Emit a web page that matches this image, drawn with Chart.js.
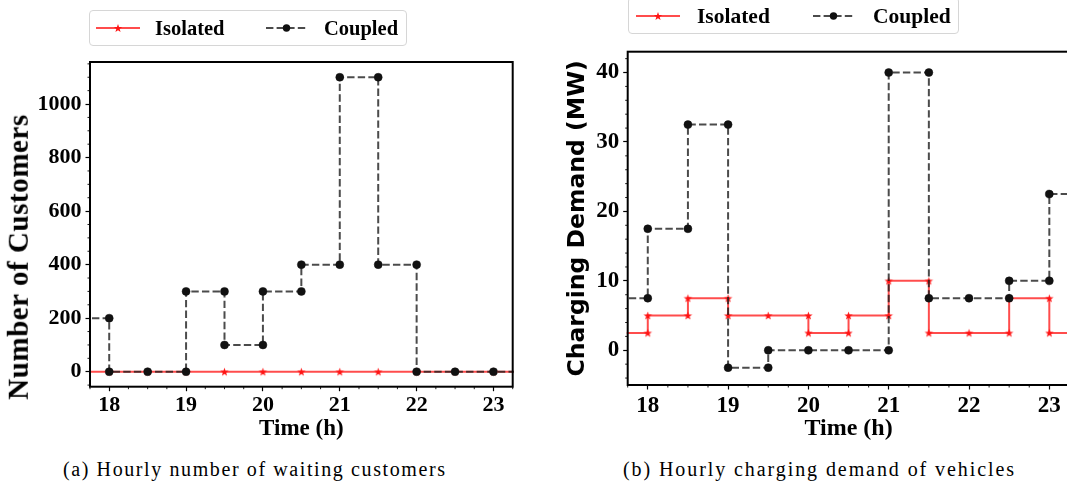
<!DOCTYPE html>
<html><head><meta charset="utf-8">
<script src="https://cdn.jsdelivr.net/npm/chart.js@4/dist/chart.umd.min.js"></script>
<style>
html,body{margin:0;padding:0;background:#fff;}
body{width:1067px;height:494px;overflow:hidden;position:relative;}
.wrap{position:absolute;top:0;width:540px;height:450px;}
.legend{position:absolute;border:1px solid #d6d6d6;border-radius:4px;background:#fff;font-family:"Liberation Serif",serif;font-weight:bold;color:#000;}
.legend span{position:absolute;top:0;white-space:nowrap;}
.legend svg{position:absolute;}
.txt{position:absolute;white-space:nowrap;color:#000;}
</style></head><body>
<div class="wrap" style="left:0"><canvas id="c1" width="540" height="450"></canvas></div>
<div class="wrap" style="left:540px"><canvas id="c2" width="540" height="450"></canvas></div>

<div id="ytA" class="txt" style="font-family:'Liberation Serif',serif;font-weight:bold;font-size:29px;line-height:32px;">Number of Customers</div>

<div class="legend" style="left:89px;top:10px;width:316px;height:34px;font-size:20.5px;">
  <svg id="lgA1" style="left:6px;top:10px" width="44" height="14"></svg>
  <span style="left:65px;line-height:34px">Isolated</span>
  <svg id="lgA2" style="left:176px;top:10px" width="41" height="14"></svg>
  <span style="left:234px;line-height:34px">Coupled</span>
</div>
<div class="legend" style="left:628px;top:-3px;width:329px;height:35px;font-size:21.5px;">
  <svg id="lgB1" style="left:7px;top:11px" width="44" height="14"></svg>
  <span style="left:68px;line-height:36px">Isolated</span>
  <svg id="lgB2" style="left:184px;top:11px" width="41" height="14"></svg>
  <span style="left:244px;line-height:36px">Coupled</span>
</div>

<div id="capA" class="txt" style="left:63px;top:458px;font-family:'Liberation Serif',serif;font-size:20px;">(a) Hourly number of waiting customers</div>
<div id="capB" class="txt" style="left:623px;top:458px;font-family:'Liberation Serif',serif;font-size:20px;">(b) Hourly charging demand of vehicles</div>

<script>
// ---------- DATA ----------
// Panel (a): hourly number of waiting customers
const timeAIsolated = [17.5, 18, 18.5, 19, 19.5, 20, 20.5, 21, 21.5, 22, 22.5, 23, 23.5];
const customersIsolated = [0, 0, 0, 0, 0, 0, 0, 0, 0, 0, 0, 0, 0];
const timeACoupled = [17.5, 18, 18, 18.5, 19, 19, 19.5, 19.5, 20, 20, 20.5, 20.5, 21, 21, 21.5, 21.5, 22, 22, 22.5, 23, 23.5];
const customersCoupled = [200, 200, 0, 0, 0, 300, 300, 100, 100, 300, 300, 400, 400, 1100, 1100, 400, 400, 0, 0, 0, 0];

// Panel (b): hourly charging demand (MW)
const timeBIsolated = [17.5, 18, 18, 18.5, 18.5, 19, 19, 19.5, 20, 20, 20.5, 20.5, 21, 21, 21.5, 21.5, 22, 22.5, 22.5, 23, 23, 23.5];
const demandIsolated = [2.5, 2.5, 5, 5, 7.5, 7.5, 5, 5, 5, 2.5, 2.5, 5, 5, 10, 10, 2.5, 2.5, 2.5, 7.5, 7.5, 2.5, 2.5];
const timeBCoupled = [17.5, 18, 18, 18.5, 18.5, 19, 19, 19.5, 19.5, 20, 20.5, 21, 21, 21.5, 21.5, 22, 22.5, 22.5, 23, 23, 23.5];
const demandCoupled = [7.5, 7.5, 17.5, 17.5, 32.5, 32.5, -2.5, -2.5, 0, 0, 0, 0, 40, 40, 7.5, 7.5, 7.5, 10, 10, 22.5, 22.5];

// Tick labels
const xTicks = [18, 19, 20, 21, 22, 23];
const yTicksA = [0, 200, 400, 600, 800, 1000];
const yTicksB = [0, 10, 20, 30, 40];

const seriesNames = ['Isolated', 'Coupled'];
const xTitle = 'Time (h)';
const yTitleB = 'Charging Demand (MW)';
// ---------------------------

const RED_LINE = 'rgba(255,0,0,0.7)';
const RED_MARK = '#ff1414';
const GRAY_LINE = 'rgba(30,30,30,0.8)';
const BLACK_MARK = '#111111';
const DASH = [7.4, 3.2];

function starPoly(cx, cy, R) {
  const r = R * 0.4, pts = [];
  for (let i = 0; i < 10; i++) {
    const a = -Math.PI / 2 + i * Math.PI / 5;
    const rad = i % 2 ? r : R;
    pts.push([cx + rad * Math.cos(a), cy + rad * Math.sin(a)]);
  }
  return pts;
}
function starImage(R, color) {
  const s = Math.ceil(R * 2 + 2);
  const c = document.createElement('canvas');
  c.width = s; c.height = s;
  const g = c.getContext('2d');
  const pts = starPoly(s / 2, s / 2 + R * 0.1, R);
  g.beginPath();
  pts.forEach((p, i) => i ? g.lineTo(p[0], p[1]) : g.moveTo(p[0], p[1]));
  g.closePath(); g.fillStyle = color; g.fill();
  return c;
}
const starImg = starImage(4.4, RED_MARK);

function pts(xs, ys) { return xs.map((x, i) => ({x: x, y: ys[i]})); }

const framePlugin = {
  id: 'frame',
  afterDatasetsDraw(chart) {
    const a = chart.chartArea, ctx = chart.ctx;
    ctx.save();
    ctx.strokeStyle = '#000'; ctx.lineWidth = 2;
    ctx.strokeRect(a.left, a.top, a.right - a.left, a.bottom - a.top);
    ctx.restore();
  }
};
const minorPlugin = {
  id: 'minorTicks',
  afterDraw(chart, args, opts) {
    const ctx = chart.ctx;
    ctx.save(); ctx.strokeStyle = '#000'; ctx.lineWidth = 0.9;
    for (const id of Object.keys(opts.steps || {})) {
      const step = opts.steps[id], s = chart.scales[id];
      for (let k = Math.ceil(s.min / step - 1e-9); k * step <= s.max + 1e-9; k++) {
        const v = k * step;
        if (s.ticks.some(t => Math.abs(t.value - v) < 1e-6)) continue;
        const p = s.getPixelForValue(v);
        ctx.beginPath();
        if (s.isHorizontal()) { ctx.moveTo(p, chart.chartArea.bottom); ctx.lineTo(p, chart.chartArea.bottom + 2.5); }
        else { ctx.moveTo(chart.chartArea.left, p); ctx.lineTo(chart.chartArea.left - 2.5, p); }
        ctx.stroke();
      }
    }
    ctx.restore();
  }
};

function makeChart(id, cfg) {
  const tickFont = {family: 'Liberation Serif', weight: 'bold', size: cfg.tickSize};
  return new Chart(document.getElementById(id), {
    type: 'line',
    data: {
      datasets: [
        {
          label: seriesNames[0], data: pts(cfg.xi, cfg.yi), order: 2,
          borderColor: RED_LINE, borderWidth: 2, pointStyle: starImg,
          pointRadius: 4, pointBackgroundColor: RED_MARK, pointBorderWidth: 0, clip: 1
        },
        {
          label: seriesNames[1], data: pts(cfg.xc, cfg.yc), order: 1,
          borderColor: GRAY_LINE, borderWidth: 2, borderDash: DASH,
          pointStyle: 'circle', pointRadius: 4, pointBackgroundColor: BLACK_MARK,
          pointBorderColor: BLACK_MARK, pointBorderWidth: 0.5, clip: 1
        }
      ]
    },
    options: {
      responsive: false, animation: false, events: [],
      layout: {padding: cfg.padding},
      plugins: {legend: {display: false}, tooltip: {enabled: false},
        minorTicks: {steps: {x: 0.25, y: cfg.yMinor}}},
      scales: {
        x: {
          type: 'linear', min: 17.75, max: 23.25,
          afterFit: s => { s.height = cfg.xHeight; },
          afterBuildTicks: s => { s.ticks = xTicks.map(v => ({value: v})); },
          ticks: {color: '#000', font: tickFont, padding: cfg.xTickPad,
                  maxRotation: 0, autoSkip: false, callback: v => String(v)},
          grid: {drawOnChartArea: false, drawTicks: true, tickLength: 4.5, tickColor: '#000', tickWidth: 1.2},
          border: {display: false},
          title: {display: true, text: xTitle, color: '#000',
                  font: {family: 'Liberation Serif', weight: 'bold', size: cfg.xTitleSize},
                  padding: {top: 0, bottom: cfg.xTitlePad}}
        },
        y: {
          type: 'linear', min: cfg.ymin, max: cfg.ymax,
          afterFit: s => { s.width = cfg.yWidth; },
          afterBuildTicks: s => { s.ticks = cfg.yTicks.map(v => ({value: v})); },
          ticks: {color: '#000', font: tickFont, padding: 4,
                  autoSkip: false, callback: v => String(v)},
          grid: {drawOnChartArea: false, drawTicks: true, tickLength: 4.5, tickColor: '#000', tickWidth: 1.2},
          border: {display: false},
          title: cfg.yTitle ? {display: true, text: cfg.yTitle, color: '#000',
                  font: cfg.yTitleFont, padding: {top: cfg.yTitlePad, bottom: 0}} : {display: false}
        }
      }
    },
    plugins: [framePlugin, minorPlugin]
  });
}

makeChart('c1', {
  xi: timeAIsolated, yi: customersIsolated, xc: timeACoupled, yc: customersCoupled,
  ymin: -56, ymax: 1157, yTicks: yTicksA, yMinor: 50,
  padding: {left: 0, top: 62, right: 27.3, bottom: 0},
  yWidth: 90, xHeight: 63.3, tickSize: 22, xTickPad: 1, xTitleSize: 23, xTitlePad: 7
});
makeChart('c2', {
  xi: timeBIsolated, yi: demandIsolated, xc: timeBCoupled, yc: demandCoupled,
  ymin: -5, ymax: 43, yTicks: yTicksB, yMinor: 2,
  padding: {left: 0, top: 51.7, right: 10.6, bottom: 0},
  yWidth: 87.7, xHeight: 65, tickSize: 23, xTickPad: 3, xTitleSize: 24, xTitlePad: 7,
  yTitle: yTitleB, yTitleFont: {family: 'DejaVu Sans', weight: 'bold', size: 23.5}, yTitlePad: 24
});

// legend samples
const NS = 'http://www.w3.org/2000/svg';
function el(svg, tag, attrs) {
  const e = document.createElementNS(NS, tag);
  for (const k in attrs) e.setAttribute(k, attrs[k]);
  svg.appendChild(e);
}
function redSample(id) {
  const s = document.getElementById(id), w = +s.getAttribute('width');
  el(s, 'line', {x1: 0, y1: 7, x2: w, y2: 7, stroke: RED_LINE, 'stroke-width': 2});
  el(s, 'polygon', {points: starPoly(w / 2, 7.4, 4.4).map(p => p.join(',')).join(' '), fill: RED_MARK});
}
function blackSample(id) {
  const s = document.getElementById(id), w = +s.getAttribute('width');
  el(s, 'line', {x1: 0, y1: 7, x2: w, y2: 7, stroke: GRAY_LINE, 'stroke-width': 2, 'stroke-dasharray': DASH.join(' ')});
  el(s, 'circle', {cx: w / 2, cy: 7, r: 3.7, fill: BLACK_MARK});
}
redSample('lgA1'); blackSample('lgA2'); redSample('lgB1'); blackSample('lgB2');

// fit text widths
function fitWidth(id, target) {
  const e = document.getElementById(id);
  const n = e.textContent.length;
  const w = e.getBoundingClientRect().width;
  e.style.letterSpacing = ((target - w) / (n - 1)) + 'px';
}
fitWidth('capA', 382);
fitWidth('capB', 391);
const yt = document.getElementById('ytA');
fitWidth('ytA', 285);
const w = yt.offsetWidth, h = yt.offsetHeight;
yt.style.left = (18 - w / 2) + 'px';
yt.style.top = (257 - h / 2) + 'px';
yt.style.transform = 'rotate(-90deg)';
</script>
</body></html>
